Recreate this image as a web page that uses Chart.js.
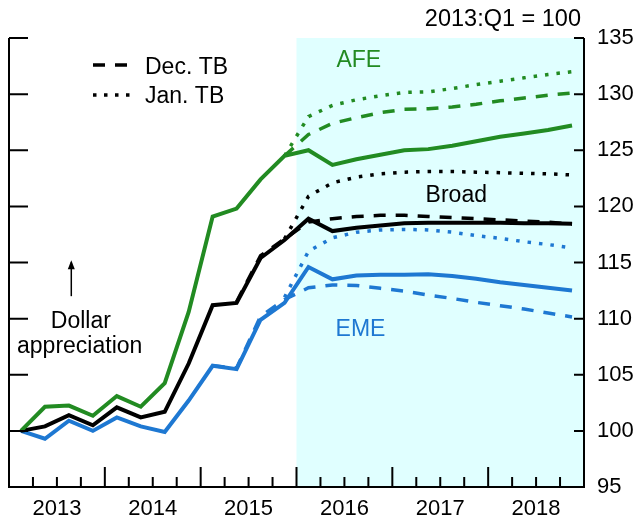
<!DOCTYPE html>
<html>
<head>
<meta charset="utf-8">
<script src="https://cdn.jsdelivr.net/npm/chart.js@4"></script>
<style>
html, body { margin: 0; padding: 0; background: #fff; }
</style>
</head>
<body>
<canvas id="myChart" width="638" height="520"></canvas>
<script>
// quarterly, 2013:Q1 .. 2018:Q4
let quarters = ['2013:Q1','2013:Q2','2013:Q3','2013:Q4','2014:Q1','2014:Q2','2014:Q3','2014:Q4',
                '2015:Q1','2015:Q2','2015:Q3','2015:Q4','2016:Q1','2016:Q2','2016:Q3','2016:Q4',
                '2017:Q1','2017:Q2','2017:Q3','2017:Q4','2018:Q1','2018:Q2','2018:Q3','2018:Q4'];
let years = ['2013','2014','2015','2016','2017','2018'];
let y_ticks = [95, 100, 105, 110, 115, 120, 125, 130, 135];

let afe       = [100.0, 102.15, 102.25, 101.35, 103.1, 102.15, 104.25, 110.6, 119.1, 119.8, 122.4, 124.5,
                 125.0, 123.7, 124.2, 124.6, 125.0, 125.1, 125.4, 125.8, 126.2, 126.5, 126.8, 127.2];
let afe_dec   = [null, null, null, null, null, null, null, null, null, null, null, 124.5,
                 126.4, 127.4, 127.9, 128.35, 128.65, 128.7, 128.85, 129.1, 129.4, 129.65, 129.9, 130.1];
let afe_jan   = [null, null, null, null, null, null, null, null, null, null, null, 124.5,
                 128.0, 129.0, 129.5, 129.85, 130.15, 130.2, 130.5, 130.85, 131.15, 131.45, 131.75, 132.0];

let broad     = [100.0, 100.4, 101.4, 100.5, 102.1, 101.2, 101.7, 106.0, 111.2, 111.4, 115.4, 117.0,
                 118.9, 117.8, 118.1, 118.3, 118.5, 118.55, 118.55, 118.55, 118.55, 118.5, 118.5, 118.45];
let broad_dec = [null, null, null, null, null, null, null, null, null, 111.5, 115.6, 117.1,
                 118.6, 118.9, 119.1, 119.2, 119.2, 119.1, 119.0, 118.9, 118.8, 118.7, 118.6, 118.4];
let broad_jan = [null, null, null, null, null, null, null, null, null, null, null, 117.1,
                 120.9, 122.1, 122.6, 122.9, 123.05, 123.1, 123.1, 123.05, 123.0, 122.95, 122.9, 122.8];

let eme       = [100.0, 99.3, 100.9, 100.0, 101.2, 100.4, 99.9, 102.7, 105.8, 105.5, 109.9, 111.4,
                 114.6, 113.5, 113.85, 113.9, 113.9, 113.95, 113.8, 113.55, 113.25, 113.0, 112.75, 112.5];
let eme_dec   = [null, null, null, null, null, null, null, null, 105.8, 105.6, 110.2, 111.7,
                 112.75, 113.0, 112.95, 112.7, 112.45, 112.1, 111.8, 111.45, 111.15, 110.85, 110.5, 110.15];
let eme_jan   = [null, null, null, null, null, null, null, null, null, null, null, 111.9,
                 116.0, 117.2, 117.7, 117.9, 117.95, 117.9, 117.7, 117.4, 117.15, 116.85, 116.6, 116.3];

let GREEN = '#228b22';
let BLUE = '#1e78d2';
let BLACK = '#000000';
let FONT = '"Liberation Sans", Arial, sans-serif';

// points sit in the middle of each quarter
let toPoints = (values) => {
    let pts = [];
    values.forEach((v, i) => { if (v !== null) pts.push({ x: i + 0.5, y: v }); });
    return pts;
};

let serie = (values, color, kind) => {
    let ds = {
        data: toPoints(values),
        borderColor: color,
        borderWidth: kind === 'solid' ? 4 : 3.5,
        pointRadius: 0,
        tension: 0,
        fill: false
    };
    if (kind === 'dash') ds.borderDash = [12, 10];
    if (kind === 'dot') ds.borderDash = [3.5, 8];
    return ds;
};

let framePlugin = {
    id: 'frame',
    beforeDatasetsDraw(chart) {
        let { ctx, chartArea, scales } = chart;
        let x0 = scales.x.getPixelForValue(12);
        ctx.save();
        ctx.fillStyle = '#e0ffff';
        ctx.fillRect(x0, chartArea.top, chartArea.right - x0, chartArea.bottom - chartArea.top);
        ctx.restore();
    },
    afterDraw(chart) {
        let { ctx, chartArea, scales } = chart;
        let sx = scales.x, sy = scales.y;
        let L = chartArea.left, R = chartArea.right, B = chartArea.bottom, T = chartArea.top;
        ctx.save();
        ctx.strokeStyle = BLACK;
        ctx.lineWidth = 2;
        ctx.beginPath();
        ctx.moveTo(L, T); ctx.lineTo(L, B); ctx.lineTo(R, B); ctx.lineTo(R, T);
        // y ticks, both sides, pointing inward
        y_ticks.forEach(v => {
            let y = sy.getPixelForValue(v);
            ctx.moveTo(L, y); ctx.lineTo(L + 19, y);
            ctx.moveTo(R - 10, y); ctx.lineTo(R, y);
        });
        // x ticks: long at years, short at quarters
        for (let q = 0; q <= quarters.length; q++) {
            let x = sx.getPixelForValue(q);
            ctx.moveTo(x, B); ctx.lineTo(x, B - (q % 4 === 0 ? 20 : 10));
        }
        ctx.stroke();

        // labels on the chart
        ctx.font = '23.5px ' + FONT;
        ctx.textBaseline = 'alphabetic';
        ctx.textAlign = 'right';
        ctx.fillStyle = BLACK;
        ctx.fillText('2013:Q1 = 100', R - 3, 26);

        ctx.font = '23px ' + FONT;
        ctx.textAlign = 'center';
        ctx.fillStyle = GREEN;
        ctx.fillText('AFE', sx.getPixelForValue(14.6), sy.getPixelForValue(132.4));
        ctx.fillStyle = BLACK;
        ctx.fillText('Broad', sx.getPixelForValue(18.67), sy.getPixelForValue(120.4));
        ctx.fillStyle = BLUE;
        ctx.fillText('EME', sx.getPixelForValue(14.67), sy.getPixelForValue(108.45));
        ctx.fillStyle = BLACK;
        ctx.fillText('Dollar', sx.getPixelForValue(3.0), sy.getPixelForValue(109.2));
        ctx.fillText('appreciation', sx.getPixelForValue(2.95), sy.getPixelForValue(106.95));

        // arrow
        let ax = sx.getPixelForValue(2.6);
        let ay0 = sy.getPixelForValue(112.0), ay1 = sy.getPixelForValue(115.2);
        ctx.lineWidth = 1.5;
        ctx.beginPath();
        ctx.moveTo(ax, ay0); ctx.lineTo(ax, ay1 + 2);
        ctx.stroke();
        ctx.beginPath();
        ctx.moveTo(ax, ay1); ctx.lineTo(ax - 3.5, ay1 + 9); ctx.lineTo(ax + 3.5, ay1 + 9);
        ctx.closePath();
        ctx.fill();

        // legend
        ctx.textAlign = 'left';
        ctx.fillText('Dec. TB', 145, 74);
        ctx.fillText('Jan. TB', 145, 103);
        ctx.lineWidth = 3.5;
        ctx.setLineDash([12, 10]);
        ctx.beginPath(); ctx.moveTo(93, 65); ctx.lineTo(128, 65); ctx.stroke();
        ctx.setLineDash([3.5, 7.5]);
        ctx.beginPath(); ctx.moveTo(93, 95); ctx.lineTo(131, 95); ctx.stroke();
        ctx.restore();
    }
};

Chart.defaults.font.family = FONT;
Chart.defaults.font.size = 22;
Chart.defaults.color = BLACK;

let mychart = new Chart(document.getElementById('myChart').getContext('2d'), {
    type: 'line',
    data: {
        datasets: [
            serie(afe, GREEN, 'solid'),
            serie(broad, BLACK, 'solid'),
            serie(eme, BLUE, 'solid'),
            serie(afe_dec, GREEN, 'dash'),
            serie(broad_dec, BLACK, 'dash'),
            serie(eme_dec, BLUE, 'dash'),
            serie(afe_jan, GREEN, 'dot'),
            serie(broad_jan, BLACK, 'dot'),
            serie(eme_jan, BLUE, 'dot')
        ]
    },
    options: {
        responsive: false,
        animation: false,
        layout: { padding: { top: 38, left: 8, right: 0, bottom: 0 } },
        plugins: { legend: { display: false }, tooltip: { enabled: false } },
        scales: {
            x: {
                type: 'linear',
                min: 0,
                max: quarters.length,
                grid: { display: false, drawTicks: false },
                border: { display: false },
                ticks: {
                    stepSize: 1,
                    autoSkip: false,
                    maxRotation: 0,
                    padding: 9,
                    callback: (v) => (v % 4 === 2 ? years[(v - 2) / 4] : '')
                },
                afterFit: (s) => { s.height = 33; }
            },
            y: {
                position: 'right',
                min: 95,
                max: 135,
                grid: { display: false, drawTicks: false },
                border: { display: false },
                ticks: { stepSize: 5, padding: 13 },
                afterFit: (s) => { s.width = 54; }
            }
        }
    },
    plugins: [framePlugin]
});
</script>
</body>
</html>
